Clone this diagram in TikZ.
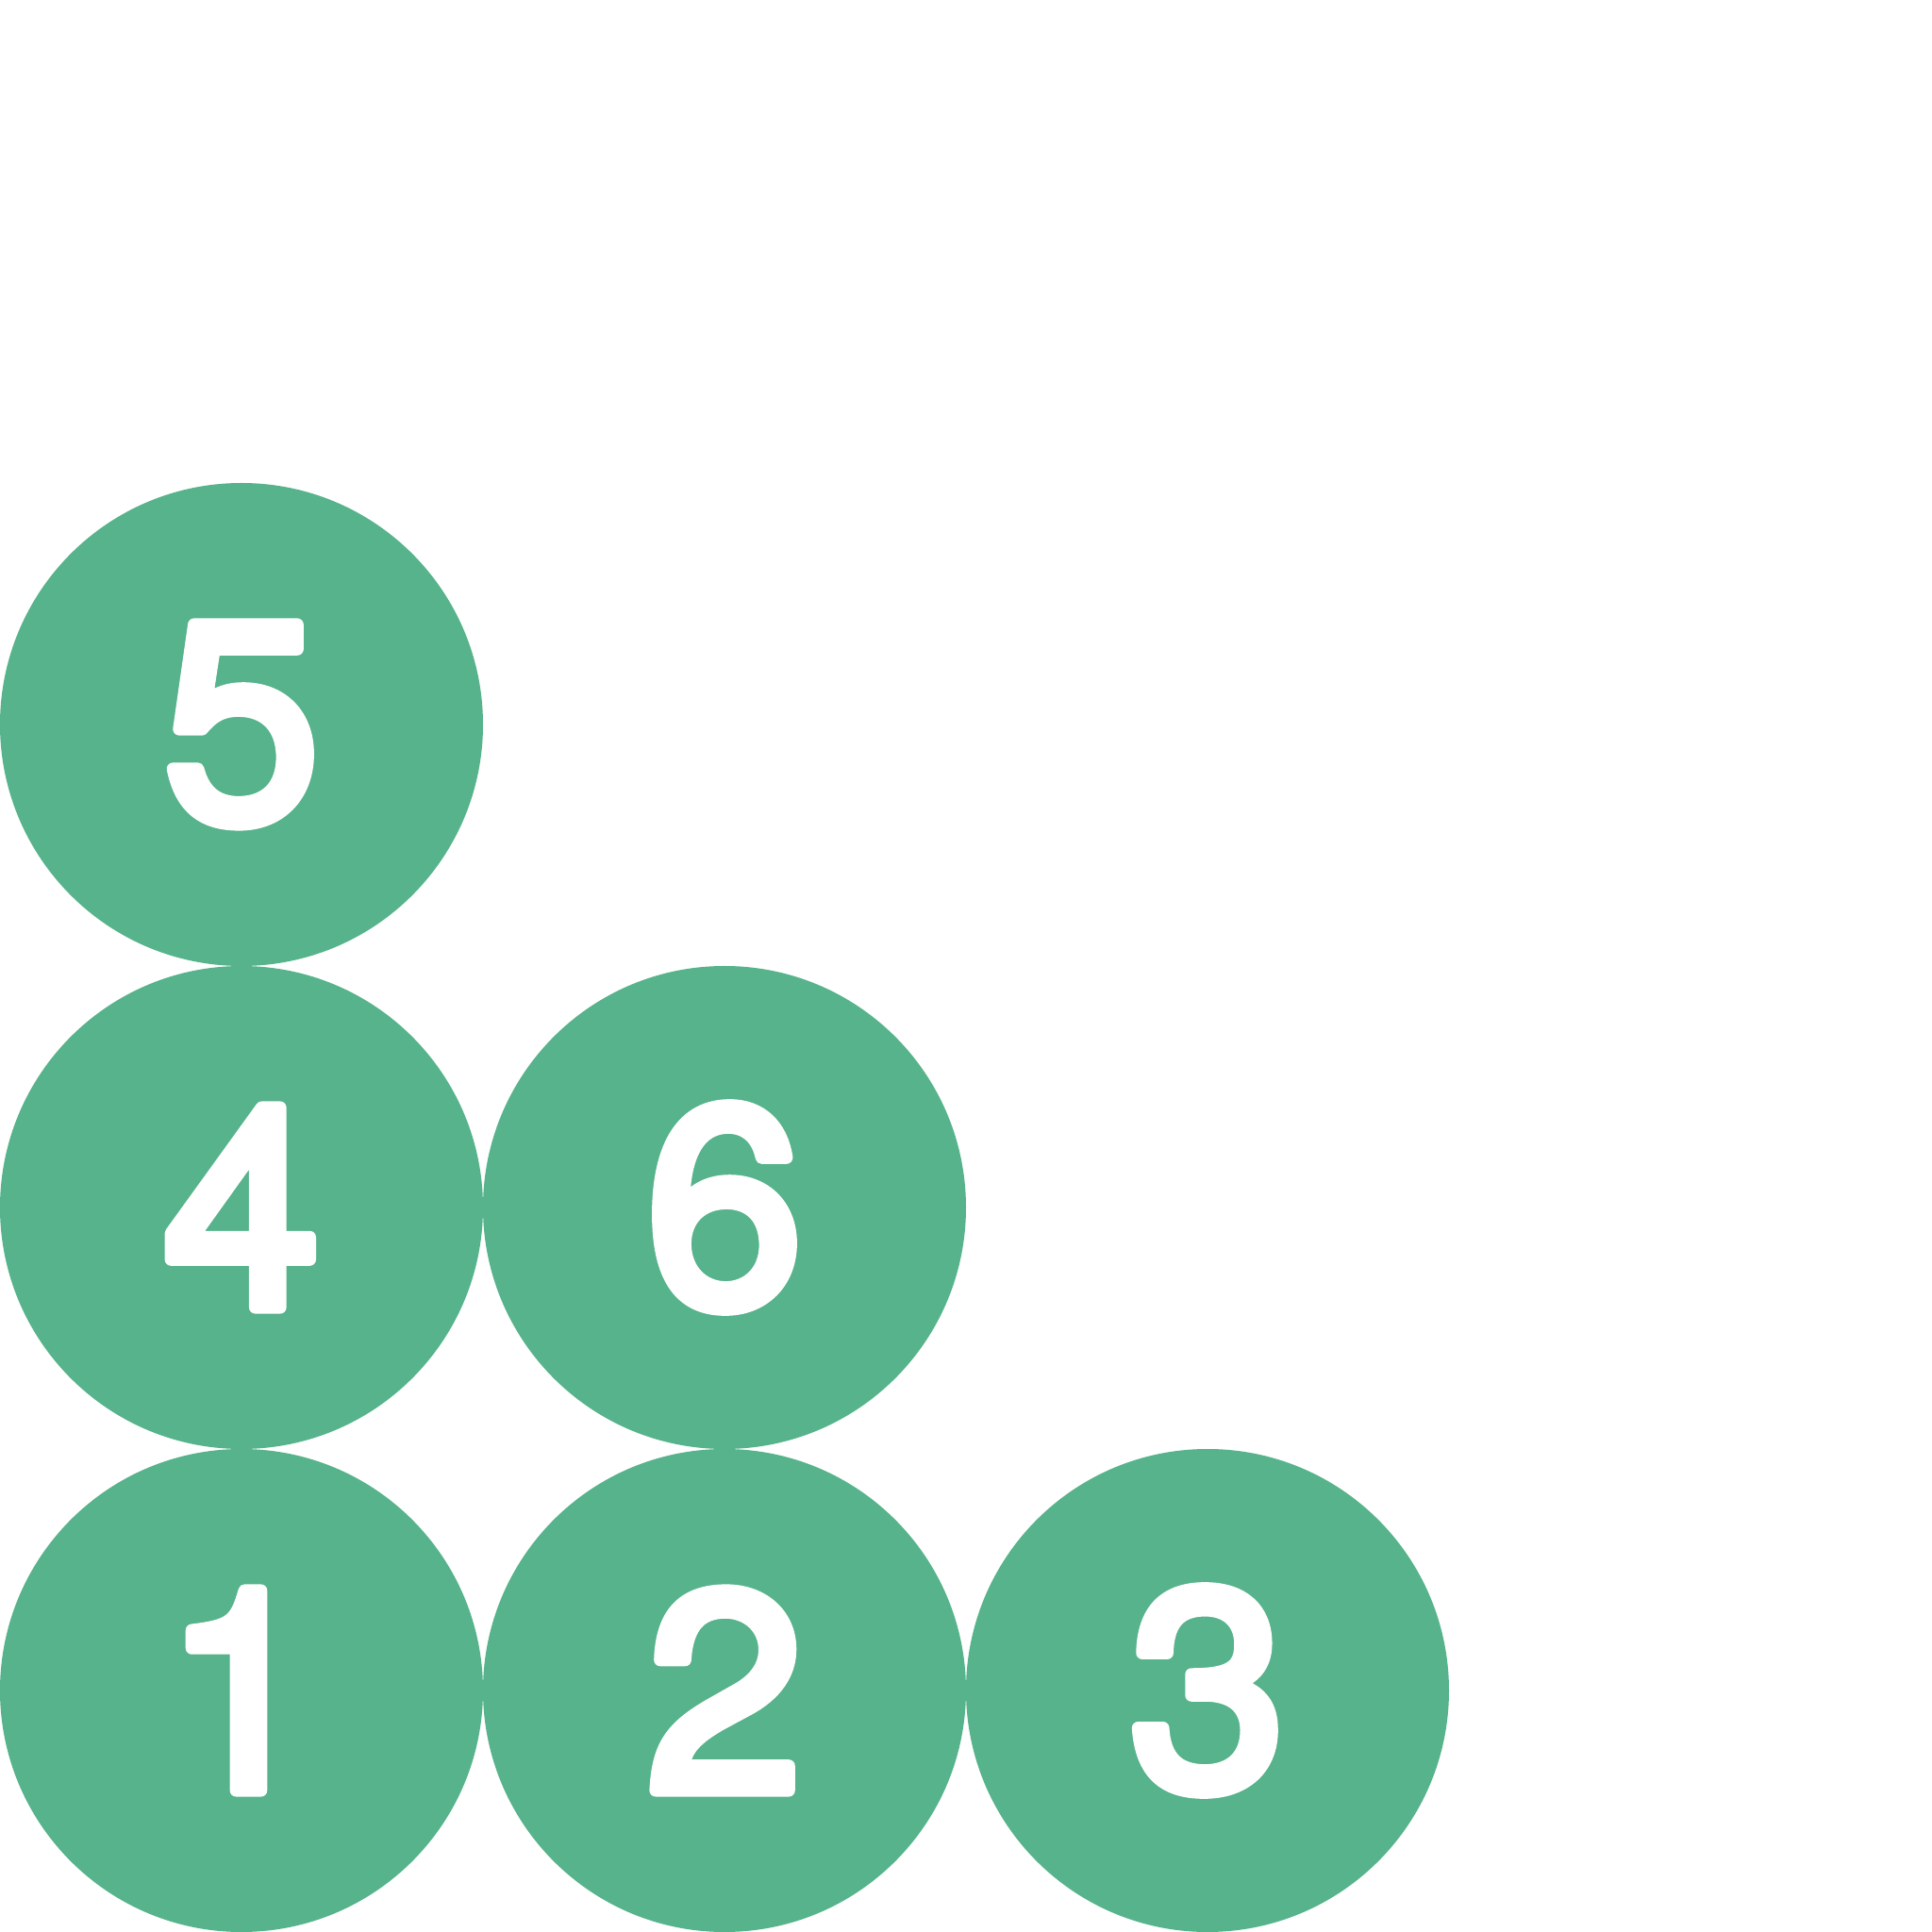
\documentclass[tikz,border=0pt]{standalone}
\usepackage{fontspec}
\setmainfont{TeX Gyre Heros}
\usepackage{tikz}
\definecolor{ballgreen}{RGB}{86,179,139}
% white digit, filled and stroked with round joins
\newcommand{\softdigit}[1]{\special{pdf:literal direct 1 1 1 RG 1 j 1 J 3.8 w 2 Tr}#1\special{pdf:literal direct 0 Tr}}

\begin{document}
\begin{tikzpicture}[scale=1.0,
    ball/.style={circle,fill=ballgreen,inner sep=0pt,minimum size=5.12cm,
      text=white,font=\fontsize{85}{85}\selectfont}]

    \useasboundingbox (0,0) rectangle (20.48,20.48);

    \node[ball] (n1) at (2.56,2.56) {\softdigit{1}};
    \node[ball] (n2) at (7.68,2.56) {\softdigit{2}};
    \node[ball] (n3) at (12.80,2.56) {\softdigit{3}};
    \node[ball] (n4) at (2.56,7.68) {\softdigit{4}};
    \node[ball] (n6) at (7.68,7.68) {\softdigit{6}};
    \node[ball] (n5) at (2.56,12.80) {\softdigit{5}};

\end{tikzpicture}
\end{document}
